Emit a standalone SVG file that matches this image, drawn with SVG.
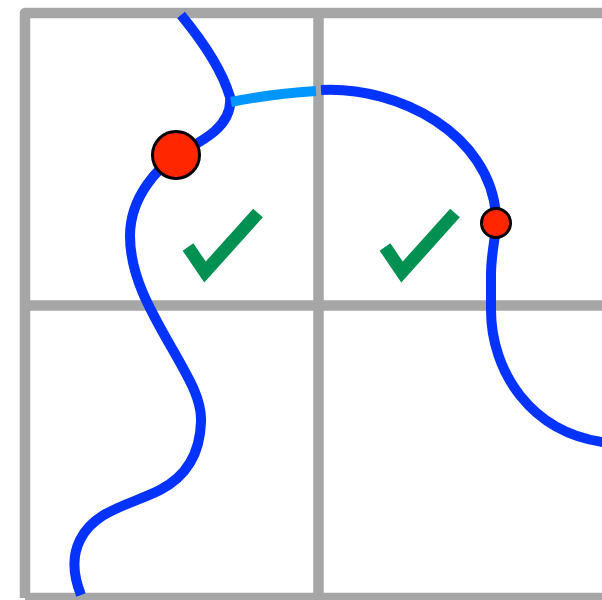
<svg xmlns="http://www.w3.org/2000/svg" width="602" height="600" viewBox="0 0 602 600">
<style>
.grid{fill:none;stroke:#a6a6a6;stroke-width:10.5;stroke-linejoin:round}
.wire{fill:none;stroke:#0433ff;stroke-width:10;stroke-linecap:butt}
.link{fill:none;stroke:#0096ff;stroke-width:10;stroke-linecap:butt}
.dot{fill:#ff2600;stroke:#000;stroke-width:3}
.check{fill:none;stroke:#009051;stroke-width:13;stroke-linecap:butt;stroke-linejoin:miter}
</style>
<rect width="602" height="600" fill="#fff"/>
<g id="grid">
<path class="grid" d="M25,598 L25,13 L615,13"/>
<path class="grid" d="M25,598 L615,598"/>
<path class="grid" d="M318.5,13 L318.5,600"/>
<path class="grid" d="M25,305.5 L615,305.5"/>
</g>
<g id="connectors">
<path class="wire" d="M181,15 C200,38 222,70 230,97 C233,125 205,140 176,155 C160,167 130,195 130,236 C130,275 150,310 170,345 C190,380 202,400 201,422 C200,455 185,477 160,490 C130,505 95,510 80,540 C70,560 75,580 81,595"/>
<path class="link" d="M231,102 Q270,94 316,91"/>
<path class="wire" d="M321,90 C400,86 490,135 496,215 C497,235 491,250 491,275 L491,310 C491,370 530,435 610,443"/>
</g>
<g id="node-dot-1"><circle class="dot" cx="176" cy="155" r="23.5"/></g>
<g id="node-dot-2"><circle class="dot" cx="496" cy="223" r="14.5"/></g>
<g id="node-check-1"><polyline class="check" points="188,247 205,272 258,213"/></g>
<g id="node-check-2"><polyline class="check" points="385,247 402,272 455,213"/></g>
</svg>
